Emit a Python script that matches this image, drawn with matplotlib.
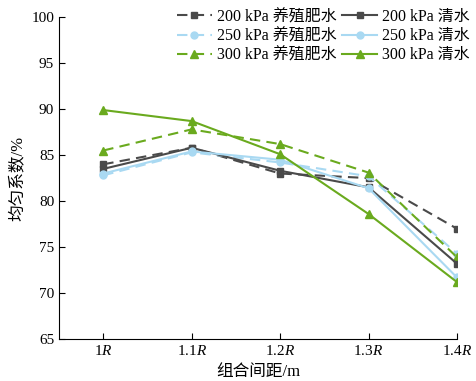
import matplotlib
matplotlib.use("Agg")
import matplotlib.pyplot as plt

plt.rcParams['font.family'] = ['Liberation Serif', 'Noto Sans CJK SC']
plt.rcParams['mathtext.fontset'] = 'custom'
plt.rcParams['mathtext.it'] = 'Liberation Serif:italic'
plt.rcParams['mathtext.rm'] = 'Liberation Serif'

categories = ['1$\\mathit{R}$', '1.1$\\mathit{R}$', '1.2$\\mathit{R}$', '1.3$\\mathit{R}$', '1.4$\\mathit{R}$']
s200_fei = [84.0, 85.8, 83.0, 82.5, 77.0]
s200_qing = [83.5, 85.8, 83.3, 81.5, 73.2]
s250_fei = [82.8, 85.3, 84.2, 82.7, 74.3]
s250_qing = [83.0, 85.4, 84.5, 81.4, 71.7]
s300_fei = [85.5, 87.8, 86.2, 83.1, 73.9]
s300_qing = [89.9, 88.7, 85.1, 78.6, 71.2]
labels_fei = ['200 kPa 养殖肥水', '250 kPa 养殖肥水', '300 kPa 养殖肥水']
labels_qing = ['200 kPa 清水', '250 kPa 清水', '300 kPa 清水']

gray = '#4a4a4a'
blue = '#a9d9f2'
green = '#6aaa1e'

fig = plt.figure(figsize=(4.76, 3.81), dpi=100)
ax = fig.add_axes([0.124, 0.110, 0.836, 0.845])
x = list(range(len(categories)))
dash = (0, (5, 3))

h1, = ax.plot(x, s200_fei, ls=dash, color=gray, marker='s', ms=5, lw=1.5, label=labels_fei[0])
h3, = ax.plot(x, s250_fei, ls=dash, color=blue, marker='o', ms=5, lw=1.5, label=labels_fei[1])
h5, = ax.plot(x, s300_fei, ls=dash, color=green, marker='^', ms=6, lw=1.5, label=labels_fei[2])
h2, = ax.plot(x, s200_qing, ls='-', color=gray, marker='s', ms=5, lw=1.5, label=labels_qing[0])
h4, = ax.plot(x, s250_qing, ls='-', color=blue, marker='o', ms=5, lw=1.5, label=labels_qing[1])
h6, = ax.plot(x, s300_qing, ls='-', color=green, marker='^', ms=6, lw=1.5, label=labels_qing[2])

ax.set_xlim(-0.5, 4)
ax.set_ylim(65, 100)
ax.set_yticks(range(65, 101, 5))
ax.set_xticks(x)
ax.set_xticklabels(categories)
ax.tick_params(direction='in', labelsize=11, length=4)
ax.spines['top'].set_visible(False)
ax.spines['right'].set_visible(False)
ax.set_xlabel('组合间距/m', fontsize=12, labelpad=4)
ax.set_ylabel('均匀系数/%', fontsize=12, labelpad=4)

ax.legend(handles=[h1, h3, h5, h2, h4, h6], ncol=2, loc='upper right',
          bbox_to_anchor=(1.06, 1.06), frameon=False,
          fontsize=11.5, handlelength=2.2, handletextpad=0.3, columnspacing=0.35,
          labelspacing=0.2, borderpad=0.2)

fig.savefig('out.png', dpi=100)
